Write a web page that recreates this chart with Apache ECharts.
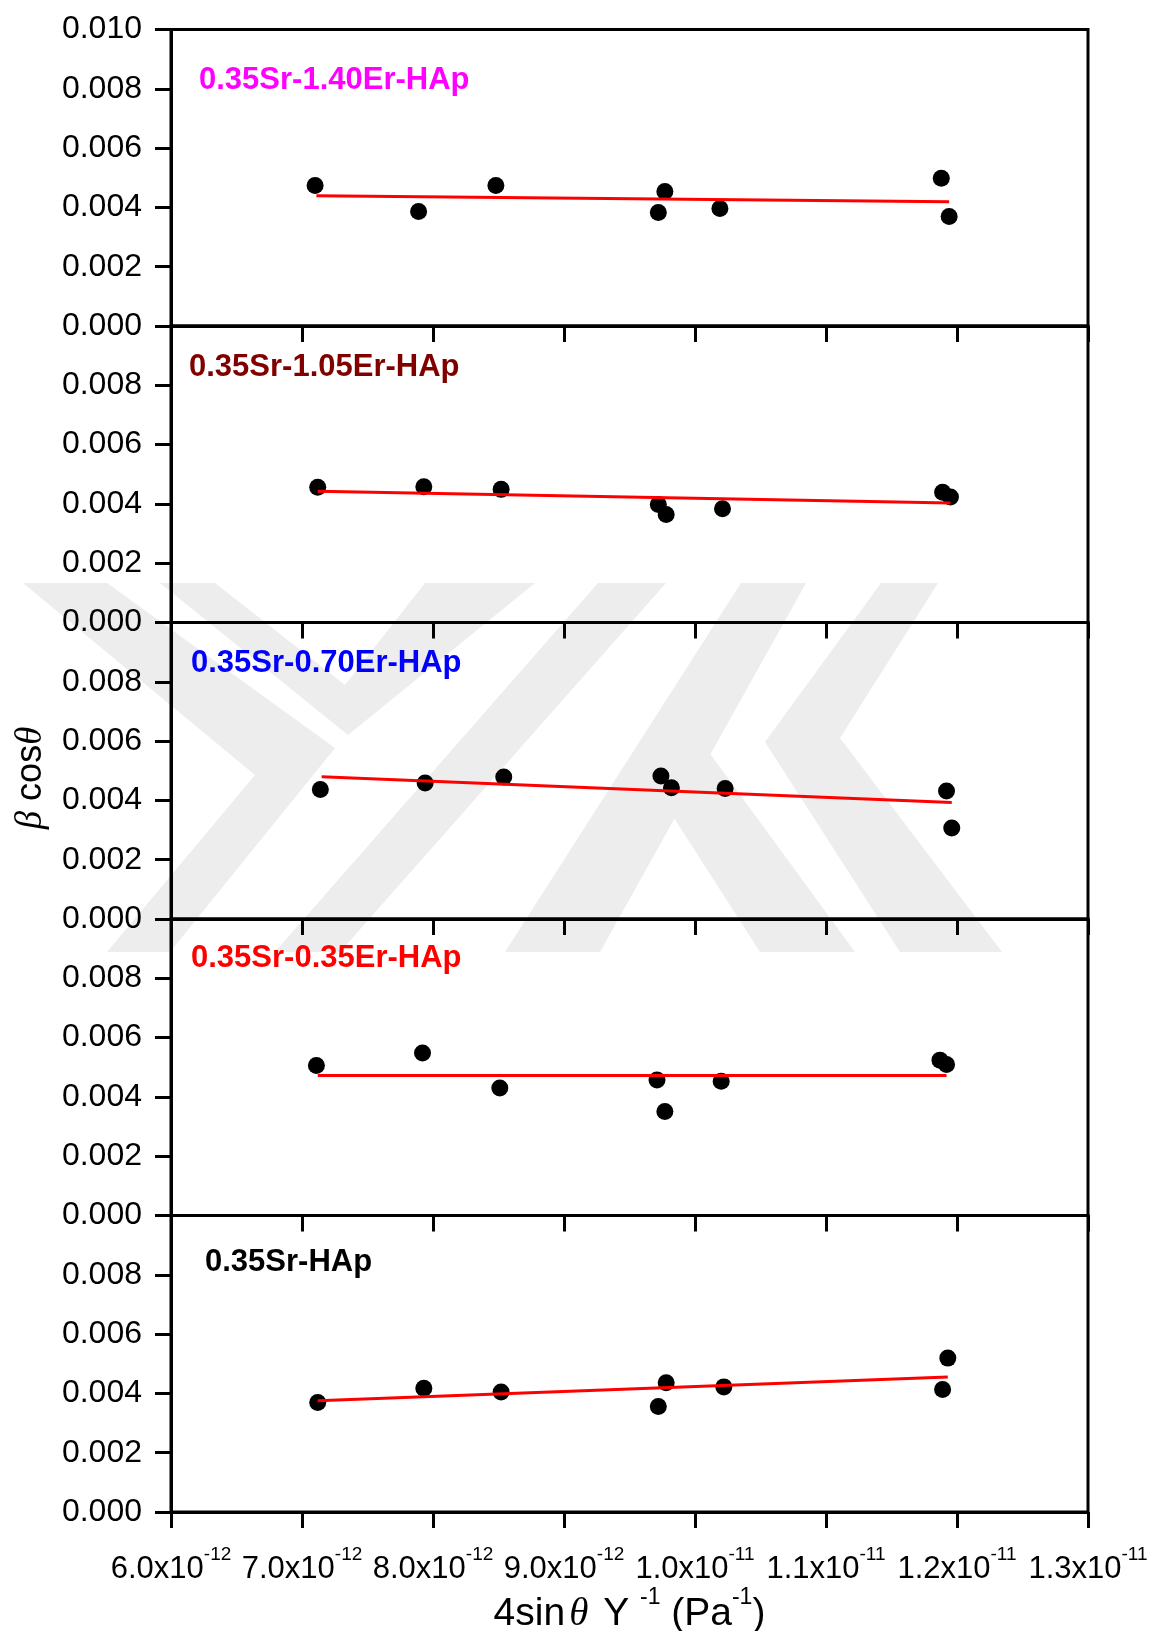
<!DOCTYPE html>
<html>
<head>
<meta charset="utf-8">
<script src="https://cdn.jsdelivr.net/npm/echarts@6/dist/echarts.min.js"></script>
<style>
    html, body { margin: 0; padding: 0; background: #fff; }
    #chart { width: 1153px; height: 1631px; }
</style>
</head>
<body>
<div id="chart"></div>
<script>
// x values are in units of 1e-12 Pa^-1, y values are beta*cos(theta)
var sampleNames = ['0.35Sr-1.40Er-HAp', '0.35Sr-1.05Er-HAp', '0.35Sr-0.70Er-HAp', '0.35Sr-0.35Er-HAp', '0.35Sr-HAp'];
var sampleColors = ['#ff00ff', '#800000', '#0000ff', '#ff0000', '#000000'];

var x140 = [7.10, 7.89, 8.48, 9.72, 9.77, 10.19, 11.88, 11.94];
var y140 = [0.00474, 0.00386, 0.00474, 0.00383, 0.00454, 0.00396, 0.00498, 0.00369];
var x105 = [7.12, 7.93, 8.52, 9.72, 9.78, 10.21, 11.89, 11.95];
var y105 = [0.00456, 0.00458, 0.00449, 0.00398, 0.00364, 0.00384, 0.00439, 0.00423];
var x070 = [7.14, 7.94, 8.54, 9.74, 9.82, 10.23, 11.92, 11.96];
var y070 = [0.00437, 0.00459, 0.00479, 0.00482, 0.00443, 0.00440, 0.00432, 0.00307];
var x035 = [7.11, 7.92, 8.51, 9.71, 9.77, 10.20, 11.87, 11.92];
var y035 = [0.00506, 0.00548, 0.00430, 0.00457, 0.00351, 0.00453, 0.00524, 0.00509];
var x000 = [7.12, 7.93, 8.52, 9.72, 9.78, 10.22, 11.89, 11.93];
var y000 = [0.00369, 0.00417, 0.00405, 0.00356, 0.00436, 0.00422, 0.00413, 0.00519];

// linear fit end points
var fitX = [[7.11, 11.94], [7.12, 11.95], [7.15, 11.96], [7.12, 11.92], [7.12, 11.93]];
var fitY = [[0.00439, 0.00419], [0.00443, 0.00403], [0.00480, 0.00393], [0.00472, 0.00472], [0.00375, 0.00455]];

var xTickBase = ['6.0x10', '7.0x10', '8.0x10', '9.0x10', '1.0x10', '1.1x10', '1.2x10', '1.3x10'];
var xTickExp = ['-12', '-12', '-12', '-12', '-11', '-11', '-11', '-11'];

var xs = [x140, x105, x070, x035, x000];
var ys = [y140, y105, y070, y035, y000];

var FONT = 'Liberation Sans, Arial, sans-serif';
var gridTops = [29.5, 326, 622.5, 919, 1215.5];
var gridH = 296.5;
var labelPos = [[199, 80], [189, 367], [191, 663], [191, 958], [205, 1262]];

// faint background watermark (page decoration, not data)
var watermark = [
    [[23, 583], [107, 583], [335, 748], [170, 952], [107, 952], [255, 775]],
    [[160, 583], [215, 583], [345, 685], [425, 583], [535, 583], [348, 735]],
    [[598, 583], [666, 583], [340, 952], [275, 952]],
    [[741, 583], [806, 583], [600, 952], [505, 952]],
    [[881, 583], [938, 583], [840, 738], [1002, 952], [900, 952], [765, 742]],
    [[640, 765], [700, 740], [855, 952], [760, 952]]
];

var grids = [], xAxes = [], yAxes = [], series = [], labels = [];

watermark.forEach(function (pts) {
    labels.push({
        type: 'polygon', z: -10, silent: true,
        shape: { points: pts },
        style: { fill: '#ededed' }
    });
});

for (var i = 0; i < 5; i++) {
    grids.push({
        left: 171, right: 65, top: gridTops[i], height: gridH,
        outerBoundsMode: 'none', containLabel: false,
        show: true, borderColor: '#000', borderWidth: 3, backgroundColor: 'transparent'
    });
    xAxes.push({
        gridIndex: i, type: 'value', min: 6, max: 13, interval: 1,
        axisLine: { onZero: false, lineStyle: { color: '#000', width: 3 } },
        axisTick: { show: true, inside: false, length: 16, lineStyle: { color: '#000', width: 3 } },
        splitLine: { show: false },
        axisLabel: {
            show: i === 4, margin: 33,
            formatter: function (v) {
                var k = Math.round(v - 6);
                return '{m|' + xTickBase[k] + '}{s|' + xTickExp[k] + '}';
            },
            rich: {
                m: { fontSize: 31, fontFamily: FONT, color: '#000', lineHeight: 40, verticalAlign: 'bottom' },
                s: { fontSize: 19, fontFamily: FONT, color: '#000', lineHeight: 40, verticalAlign: 'top' }
            }
        },
        name: i === 4 ? '{n|4sin}{g|\u03b8}{n| Y }{s|-1}{n| (Pa}{s|-1}{n|)}' : '',
        nameLocation: 'middle', nameGap: 72,
        nameTextStyle: {
            rich: {
                n: { fontSize: 39, fontFamily: FONT, color: '#000', lineHeight: 48, verticalAlign: 'bottom' },
                g: { fontSize: 39, fontFamily: 'Liberation Serif, serif', fontStyle: 'italic', color: '#000', lineHeight: 48, verticalAlign: 'bottom', padding: [0, 4, 0, 4] },
                s: { fontSize: 23, fontFamily: FONT, color: '#000', lineHeight: 48, verticalAlign: 'top' }
            }
        }
    });
    yAxes.push({
        gridIndex: i, type: 'value', min: 0, max: 0.01, interval: 0.002,
        axisLine: { show: true, onZero: false, lineStyle: { color: '#000', width: 3 } },
        axisTick: { show: true, inside: false, length: 16, lineStyle: { color: '#000', width: 3 } },
        splitLine: { show: false },
        axisLabel: {
            fontSize: 32, fontFamily: FONT, color: '#000', margin: 29,
            formatter: (function (idx) {
                return function (v) {
                    if (idx > 0 && v > 0.0099) return '';
                    return v.toFixed(3);
                };
            })(i)
        }
    });
    var pts = xs[i].map(function (x, j) { return [x, ys[i][j]]; });
    series.push({
        type: 'scatter', xAxisIndex: i, yAxisIndex: i, data: pts,
        symbol: 'circle', symbolSize: 17, itemStyle: { color: '#000', opacity: 1 }, z: 2
    });
    series.push({
        type: 'line', xAxisIndex: i, yAxisIndex: i,
        data: [[fitX[i][0], fitY[i][0]], [fitX[i][1], fitY[i][1]]],
        showSymbol: false, lineStyle: { color: '#ff0000', width: 3 }, z: 3
    });
    labels.push({
        type: 'text', x: labelPos[i][0], y: labelPos[i][1],
        style: { text: sampleNames[i], fill: sampleColors[i], font: 'bold 31px ' + FONT, verticalAlign: 'middle' }
    });
}

// y axis title
labels.push({
    type: 'text', x: 31, y: 778, rotation: Math.PI / 2,
    style: {
        text: '{g|\u03b2}{n| cos}{g|\u03b8}',
        align: 'center', verticalAlign: 'middle',
        rich: {
            g: { fontSize: 37, fontFamily: 'Liberation Serif, serif', fontStyle: 'italic', fill: '#000' },
            n: { fontSize: 36, fontFamily: FONT, fill: '#000' }
        }
    }
});

var myChart = echarts.init(document.getElementById('chart'), null, { renderer: 'canvas' });
myChart.setOption({
    animation: false,
    backgroundColor: '#fff',
    grid: grids,
    xAxis: xAxes,
    yAxis: yAxes,
    series: series,
    graphic: labels
});
</script>
</body>
</html>
